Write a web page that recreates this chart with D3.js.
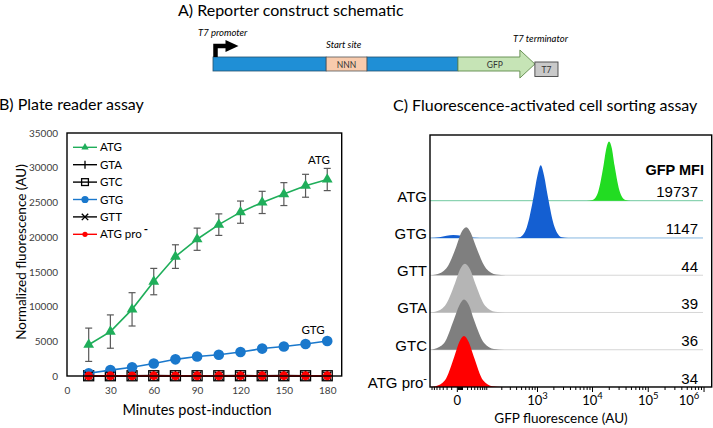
<!DOCTYPE html>
<html lang="en">
<head>
<meta charset="UTF-8">
<title>reporter assays</title>
<script src="https://d3js.org/d3.v7.min.js"></script>
<style>
  * { margin: 0; padding: 0; }
  body { background: #fff; }
  svg { display: block; font-family: Lato, "Open Sans", sans-serif; }
  .arial { font-family: "Liberation Sans", Arial, sans-serif; }
</style>
</head>
<body>
<svg id="fig" width="713" height="428"></svg>
<script>
// A) construct parts, lengths in arbitrary units
var partNames = ["", "NNN", "", "GFP", "T7"];
var partLengths = [32.8, 11.8, 26.4, 22.3, 6.7];

// B) plate reader assay
var minutes = [15, 30, 45, 60, 75, 90, 105, 120, 135, 150, 165, 180];
var atg    = [4500, 6400, 9600, 13600, 17200, 19700, 21800, 23600, 25000, 26200, 27400, 28300];
var atgErr = [2400, 2400, 2400, 1900, 1700, 1600, 1550, 1600, 1600, 1650, 1650, 1600];
var gta    = [38, 41, 36, 44, 40, 39, 42, 45, 41, 43, 40, 44];
var gtc    = [35, 37, 33, 39, 36, 38, 35, 40, 37, 39, 36, 38];
var gtg    = [400, 850, 1250, 1800, 2400, 2800, 3050, 3450, 3950, 4250, 4600, 5050];
var gtt    = [42, 45, 40, 47, 44, 43, 46, 48, 45, 47, 44, 46];
var atgPro = [30, 33, 31, 35, 32, 34, 33, 36, 34, 35, 33, 34];
var xTicks = [0, 30, 60, 90, 120, 150, 180];
var yTicks = [0, 5000, 10000, 15000, 20000, 25000, 30000, 35000];

// C) FACS histograms: [GFP (AU), count]
var facsRows = ["ATG", "GTG", "GTT", "GTA", "GTC", "ATG pro"];
var mfi = [19737, 1147, 44, 39, 36, 34];
var histATG = [[8000,0],[10200,1],[12800,11],[16100,47],[18100,70],[20200,79],[22700,70],[25400,47],[31900,11],[40000,1],[50000,0]];
var histGTG = [[-77,0],[-40,1],[-20,3],[-6,4],[8,3],[25,1],[60,0],[380,0],[471,1],[641,14],[869,56],[1010,82],[1172,97],[1361,82],[1578,56],[2119,14],[2842,1],[3700,0]];
var histGTT = [[-77,0],[-52,1],[-21,9],[-1,38],[7,56],[18,64],[30,56],[46,38],[89,9],[154,1],[250,0]];
var histGTA = [[-77,0],[-55,1],[-24,9],[-3,39],[5,57],[15,65],[28,57],[43,39],[84,9],[146,1],[240,0]];
var histGTC = [[-77,0],[-59,1],[-26,9],[-5,40],[4,59],[13,67],[25,59],[39,40],[79,9],[138,1],[230,0]];
var histPro = [[-77,0],[-54,1],[-24,9],[-4,41],[4,60],[13,68],[24,60],[38,41],[74,9],[128,1],[210,0]];
var facsTicks = [0, 1e3, 1e4, 1e5, 1e6];

var svg = d3.select("#fig");

// ================= A =================
svg.append("text").attr("x", 178).attr("y", 16).attr("font-size", 16).text("A) Reporter construct schematic");

var sx = d3.scaleLinear().domain([0, d3.sum(partLengths)]).range([213, 558]);
var cum = [0];
partLengths.forEach(function(l, i) { cum.push(cum[i] + l) });
var barTop = 57, barH = 14;

[0, 2].forEach(function(i) {
    svg.append("rect").attr("x", sx(cum[i])).attr("y", barTop).attr("width", sx(cum[i+1]) - sx(cum[i])).attr("height", barH)
        .attr("fill", "#1f8fd6").attr("stroke", "#24506e").attr("stroke-width", 0.8);
});
svg.append("rect").attr("x", sx(cum[1])).attr("y", barTop).attr("width", sx(cum[2]) - sx(cum[1])).attr("height", barH)
    .attr("fill", "#f8cbad").attr("stroke", "#555").attr("stroke-width", 0.8);
svg.append("text").attr("x", (sx(cum[1]) + sx(cum[2])) / 2).attr("y", barTop + 10.5).attr("text-anchor", "middle")
    .attr("font-size", 8.5).attr("fill", "#333").text(partNames[1]);

// GFP arrow
var g0 = sx(cum[3]), g1 = sx(cum[4]), head = 15;
svg.append("path")
    .attr("d", "M" + g0 + "," + barTop + "H" + (g1 - head) + "V" + (barTop - 7) + "L" + g1 + "," + (barTop + barH / 2) +
        "L" + (g1 - head) + "," + (barTop + barH + 7) + "V" + (barTop + barH) + "H" + g0 + "Z")
    .attr("fill", "#c6e4b6").attr("stroke", "#5f8a4a").attr("stroke-width", 0.9);
svg.append("text").attr("x", (g0 + g1 - head) / 2 + 6).attr("y", barTop + 10.5).attr("text-anchor", "middle")
    .attr("font-size", 8.5).attr("fill", "#333").text(partNames[3]);

// T7 terminator box
svg.append("rect").attr("x", sx(cum[4])).attr("y", 62).attr("width", sx(cum[5]) - sx(cum[4])).attr("height", 14.5)
    .attr("fill", "#c9c9c9").attr("stroke", "#444").attr("stroke-width", 0.9);
svg.append("text").attr("x", (sx(cum[4]) + sx(cum[5])) / 2).attr("y", 72.5).attr("text-anchor", "middle")
    .attr("font-size", 8.5).attr("fill", "#333").text(partNames[4]);

// promoter arrow
svg.append("path").attr("d", "M215.5,57V46H227").attr("fill", "none").attr("stroke", "#000").attr("stroke-width", 4.5);
svg.append("path").attr("d", "M225.5,40L238.5,46L225.5,52Z").attr("fill", "#000");

svg.append("text").attr("x", 198).attr("y", 36).attr("font-size", 9.5).attr("font-style", "italic").text("T7 promoter");
svg.append("text").attr("x", 326).attr("y", 47.5).attr("font-size", 9.5).attr("font-style", "italic").text("Start site");
svg.append("text").attr("x", 513).attr("y", 42).attr("font-size", 9.5).attr("font-style", "italic").text("T7 terminator");

// ================= B =================
svg.append("text").attr("x", -1).attr("y", 110).attr("font-size", 16).text("B) Plate reader assay");

var x = d3.scaleLinear().domain([0, 190]).range([67, 341.7]);
var y = d3.scaleLinear().domain([0, 35000]).range([376, 133]);

var gB = svg.append("g");
var yAx = gB.append("g").attr("transform", "translate(67,0)")
    .call(d3.axisLeft(y).tickValues(yTicks).tickSize(0).tickPadding(9).tickFormat(d3.format("d")));
var xAx = gB.append("g").attr("transform", "translate(0,376)")
    .call(d3.axisBottom(x).tickValues(xTicks).tickSize(0).tickPadding(11));
[yAx, xAx].forEach(function(a) {
    a.select(".domain").remove();
    a.selectAll("text").attr("font-family", "Lato, sans-serif").attr("font-size", 10).attr("fill", "#404040");
});

gB.append("text").attr("transform", "translate(25.5,252) rotate(-90)").attr("text-anchor", "middle")
    .attr("font-size", 13.5).text("Normalized fluorescence (AU)");
gB.append("text").attr("x", 197).attr("y", 415).attr("text-anchor", "middle")
    .attr("font-size", 14.5).text("Minutes post-induction");

function drawMarker(g, type, color, big) {
    var k = big ? 1 : 0.68;
    if (type === "tri") {
        g.append("path").attr("d", d3.symbol(d3.symbolTriangle, 50 * k * k)()).attr("fill", color);
    } else if (type === "circle") {
        g.append("circle").attr("r", 5.3 * k).attr("fill", color);
    } else if (type === "square") {
        var s = 10 * k;
        g.append("rect").attr("x", -s / 2).attr("y", -s / 2).attr("width", s).attr("height", s)
            .attr("fill", "none").attr("stroke", color).attr("stroke-width", 1.3);
    } else if (type === "plus") {
        g.append("path").attr("d", big ? "M-5,0H5M0,-5V5" : "M0,-4V4").attr("stroke", color).attr("stroke-width", 1.3);
    } else if (type === "x") {
        var d = 4 * k + (big ? 0 : 0.5);
        g.append("path").attr("d", "M" + -d + "," + -d + "L" + d + "," + d + "M" + -d + "," + d + "L" + d + "," + -d)
            .attr("stroke", color).attr("stroke-width", 1.4);
    } else if (type === "red") {
        g.append("circle").attr("r", big ? 4.4 : 2.6).attr("fill", color);
    }
}

var series = [
    { name: "ATG", vals: atg, color: "#1fae5a", marker: "tri" },
    { name: "GTA", vals: gta, color: "#000", marker: "plus" },
    { name: "GTC", vals: gtc, color: "#000", marker: "square" },
    { name: "GTG", vals: gtg, color: "#1a78cc", marker: "circle" },
    { name: "GTT", vals: gtt, color: "#000", marker: "x" },
    { name: "ATG pro", vals: atgPro, color: "#ff0000", marker: "red" }
];

// error bars for ATG
var eb = gB.append("g").attr("stroke", "#595959").attr("stroke-width", 1.2);
minutes.forEach(function(m, i) {
    var cx = x(m), t = y(atg[i] + atgErr[i]), b = y(atg[i] - atgErr[i]);
    eb.append("line").attr("x1", cx).attr("x2", cx).attr("y1", t).attr("y2", b);
    eb.append("line").attr("x1", cx - 3.5).attr("x2", cx + 3.5).attr("y1", t).attr("y2", t);
    eb.append("line").attr("x1", cx - 3.5).attr("x2", cx + 3.5).attr("y1", b).attr("y2", b);
});

var line = d3.line().x(function(d) { return x(d[0]) }).y(function(d) { return y(d[1]) });
series.forEach(function(s) {
    var pts = minutes.map(function(m, i) { return [m, s.vals[i]] });
    gB.append("path").attr("d", line(pts)).attr("fill", "none").attr("stroke", s.color).attr("stroke-width", 1.6);
    pts.forEach(function(p) {
        drawMarker(gB.append("g").attr("transform", "translate(" + x(p[0]) + "," + y(p[1]) + ")"), s.marker, s.color, true);
    });
});

// frame
gB.append("rect").attr("x", 67).attr("y", 133).attr("width", 341.7 - 67).attr("height", 376 - 133)
    .attr("fill", "none").attr("stroke", "#000").attr("stroke-width", 1.4);

// legend
var leg = gB.append("g");
series.forEach(function(s, i) {
    var ly = 147.3 + i * 17.4;
    leg.append("line").attr("x1", 73).attr("x2", 97).attr("y1", ly).attr("y2", ly).attr("stroke", s.color).attr("stroke-width", 1.4);
    drawMarker(leg.append("g").attr("transform", "translate(85," + ly + ")"), s.marker, s.color, false);
    var t = leg.append("text").attr("x", 100).attr("y", ly + 4).attr("font-size", 11.5).text(s.name);
    if (s.name === "ATG pro") t.append("tspan").attr("dy", -5).attr("dx", 2).attr("font-weight", "bold").text("-");
});

gB.append("text").attr("x", 319).attr("y", 164).attr("text-anchor", "middle").attr("font-size", 11.5).text("ATG");
gB.append("text").attr("x", 313).attr("y", 334).attr("text-anchor", "middle").attr("font-size", 11.5).text("GTG");

// ================= C =================
svg.append("text").attr("x", 393).attr("y", 110.5).attr("font-size", 16).text("C) Fluorescence-activated cell sorting assay");

var fx = d3.scaleSymlog().constant(38).domain([-77, 1.4e6]).range([430, 711.7]);
var fy = d3.scalePoint().domain(facsRows).range([200.7, 387]);
var fh = d3.scaleLinear().domain([0, 100]).range([0, 75]);

var gC = svg.append("g");
gC.append("clipPath").attr("id", "clipC").append("rect").attr("x", 430).attr("y", 135).attr("width", 281.7).attr("height", 252);

var rowStyle = [
    { hist: histATG, fill: "#22dc22", line: "#72c9a0" },
    { hist: histGTG, fill: "#145fd2", line: "#86b7e0" },
    { hist: histGTT, fill: "#7f7f7f", line: "#d6d6d6" },
    { hist: histGTA, fill: "#b5b5b5", line: "#d6d6d6" },
    { hist: histGTC, fill: "#7f7f7f", line: "#d6d6d6" },
    { hist: histPro, fill: "#ff0000", line: "#d6d6d6" }
];
var plot = gC.append("g").attr("clip-path", "url(#clipC)");
facsRows.forEach(function(r, i) {
    var base = fy(r);
    plot.append("line").attr("x1", 430).attr("x2", 703).attr("y1", base).attr("y2", base)
        .attr("stroke", rowStyle[i].line).attr("stroke-width", 1);
    var area = d3.area().x(function(d) { return fx(d[0]) }).y0(base)
        .y1(function(d) { return base - fh(d[1]) }).curve(d3.curveMonotoneX);
    plot.append("path").attr("d", area(rowStyle[i].hist)).attr("fill", rowStyle[i].fill);

    var lab = gC.append("text").attr("class", "arial").attr("x", 427).attr("y", base + 1)
        .attr("text-anchor", "end").attr("font-size", 15).text(r);
    if (r === "ATG pro") lab.append("tspan").attr("dy", -6).attr("font-size", 11).text("-");
    gC.append("text").attr("class", "arial").attr("x", 698).attr("y", base - 3.5)
        .attr("text-anchor", "end").attr("font-size", 15).text(mfi[i]);
});
gC.append("text").attr("class", "arial").attr("x", 704).attr("y", 175).attr("text-anchor", "end")
    .attr("font-size", 14.5).attr("font-weight", "bold").text("GFP MFI");

// x axis with minor ticks
var minor = [];
[-70, -60, -50, -40, -30, -20, -10].forEach(function(v) { minor.push(v) });
[1, 10, 100, 1000, 10000, 100000].forEach(function(dec) {
    for (var k = 2; k <= 9; k++) minor.push(k * dec);
});
gC.append("g").attr("transform", "translate(0,387)")
    .call(d3.axisBottom(fx).tickValues(minor).tickSize(3).tickFormat(""))
    .call(function(a) { a.select(".domain").remove() });
var fAx = gC.append("g").attr("transform", "translate(0,387)")
    .call(d3.axisBottom(fx).tickValues(facsTicks).tickSize(5).tickPadding(4).tickFormat(""));
fAx.select(".domain").remove();
fAx.selectAll(".tick text").each(function(d) {
    var t = d3.select(this).attr("font-family", "Lato, sans-serif").attr("font-size", 13).attr("fill", "#000");
    if (d === 0) { t.text("0"); return; }
    if (d === 1e6) t.attr("dx", -15);
    t.append("tspan").text("10");
    t.append("tspan").attr("dy", -6).attr("font-size", 9.5).text(Math.round(Math.log10(d)));
});

gC.append("rect").attr("x", 430).attr("y", 135).attr("width", 281.7).attr("height", 252)
    .attr("fill", "none").attr("stroke", "#000").attr("stroke-width", 1.4);

gC.append("text").attr("x", 561).attr("y", 423).attr("text-anchor", "middle").attr("font-size", 13.5).text("GFP fluorescence (AU)");
</script>
</body>
</html>
